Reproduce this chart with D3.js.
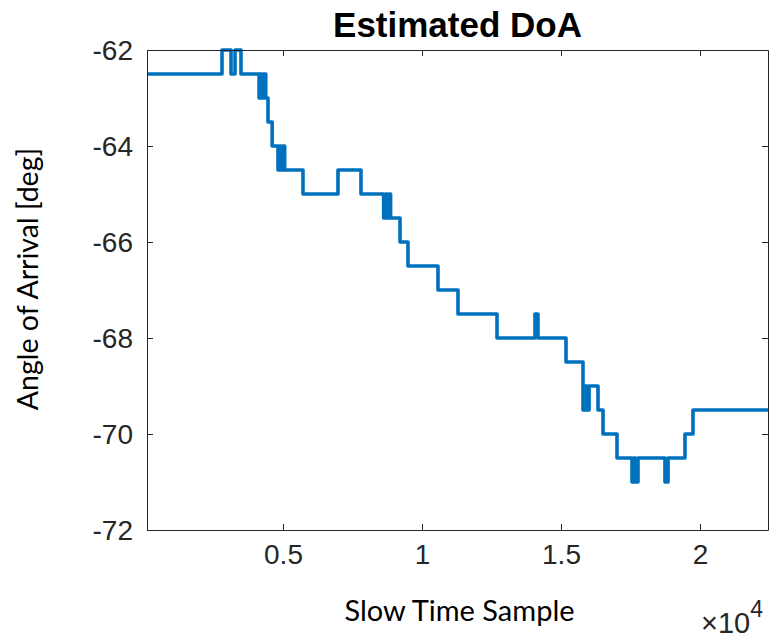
<!DOCTYPE html>
<html>
<head>
<meta charset="utf-8">
<script src="https://cdn.jsdelivr.net/npm/d3@7"></script>
<style>
    html, body { margin: 0; padding: 0; background: #fff; }
    svg { display: block; }
</style>
</head>
<body>
<script>
// Step series: sample index where each level starts, and the angle held from there
const stepSample = [
    108, 2806, 3130, 3274, 3489,
    4140, 4190, 4240, 4300, 4380,
    4460, 4610, 4820, 4880, 4940,
    5000, 5060, 5719, 6978, 7805,
    8620, 8690, 8760, 8830, 8870,
    9209, 9496, 10575, 11295, 12698,
    14065, 14172, 15180, 15791, 15870,
    15940, 16010, 16331, 16511, 17014,
    17554, 17620, 17680, 17770, 18740,
    18850, 19460, 19748, 22446
];
const stepAngle = [
    -62.5, -62, -62.5, -62, -62.5,
    -63, -62.5, -63, -62.5, -63,
    -63.5, -64, -64.5, -64, -64.5,
    -64, -64.5, -65, -64.5, -65,
    -65.5, -65, -65.5, -65, -65.5,
    -66, -66.5, -67, -67.5, -68,
    -67.5, -68, -68.5, -69.5, -69,
    -69.5, -69, -69.5, -70, -70.5,
    -71, -70.5, -71, -70.5, -71,
    -70.5, -70, -69.5, -69.5
];

const xTicks = [5000, 10000, 15000, 20000];
const xTickLabels = ['0.5', '1', '1.5', '2'];
const yTicks = [-72, -70, -68, -66, -64, -62];

const W = 772, H = 638;
const margin = { top: 50, right: 4, bottom: 108, left: 147 };
const innerW = W - margin.left - margin.right;
const innerH = H - margin.top - margin.bottom;

const data = stepSample.map((s, i) => ({ x: s, y: stepAngle[i] }));

const svg = d3.select('body').append('svg')
    .attr('width', W)
    .attr('height', H);

const g = svg.append('g')
    .attr('transform', `translate(${margin.left},${margin.top})`);

// Scales
const xScale = d3.scaleLinear().domain([108, 22446]).range([0, innerW]);
const yScale = d3.scaleLinear().domain([-72, -62]).range([innerH, 0]);

const axisColor = '#262626';
const tickFont = '"Liberation Sans", Arial, sans-serif';

// Line (clipped to axes, like MATLAB)
svg.append('defs').append('clipPath').attr('id', 'plotClip')
    .append('rect').attr('x', 0).attr('y', -2).attr('width', innerW).attr('height', innerH + 4);

g.append('path')
    .datum(data)
    .attr('clip-path', 'url(#plotClip)')
    .attr('fill', 'none')
    .attr('stroke', '#0072BD')
    .attr('stroke-width', 3.6)
    .attr('stroke-linejoin', 'round')
    .attr('d', d3.line()
        .x(d => xScale(d.x))
        .y(d => yScale(d.y))
        .curve(d3.curveStepAfter));

// Axes: bottom/left with labels, top/right mirrored ticks
const xAxis = d3.axisBottom(xScale).tickValues(xTicks)
    .tickFormat((d, i) => xTickLabels[i]).tickSizeInner(-6).tickSizeOuter(0).tickPadding(14);
const yAxis = d3.axisLeft(yScale).tickValues(yTicks)
    .tickFormat(d => String(d)).tickSizeInner(-6).tickSizeOuter(0).tickPadding(14);
const xTop = d3.axisTop(xScale).tickValues(xTicks).tickFormat('').tickSizeInner(-6).tickSizeOuter(0);
const yRight = d3.axisRight(yScale).tickValues(yTicks).tickFormat('').tickSizeInner(-6).tickSizeOuter(0);

const gx = g.append('g').attr('transform', `translate(0,${innerH})`).call(xAxis);
const gy = g.append('g').call(yAxis);
g.append('g').call(xTop);
g.append('g').attr('transform', `translate(${innerW},0)`).call(yRight);

g.selectAll('.domain, .tick line').attr('stroke', axisColor).attr('stroke-width', 1);
g.selectAll('.tick text')
    .attr('fill', axisColor)
    .style('font-family', tickFont)
    .style('font-size', '28px');
gx.selectAll('.tick text').attr('dy', '0.71em');
gy.selectAll('.tick text').attr('dy', '0.35em');

// Title
svg.append('text')
    .attr('x', margin.left + innerW / 2)
    .attr('y', 37)
    .attr('text-anchor', 'middle')
    .style('font-family', tickFont)
    .style('font-weight', 'bold')
    .style('font-size', '35px')
    .attr('fill', '#000')
    .text('Estimated DoA');

// Axis labels
const labelFont = 'Lato, "Open Sans", sans-serif';
svg.append('text')
    .attr('x', margin.left + innerW / 2 + 2)
    .attr('y', 621)
    .attr('text-anchor', 'middle')
    .style('font-family', labelFont)
    .style('font-size', '29px')
    .attr('fill', '#000')
    .text('Slow Time Sample');

svg.append('text')
    .attr('transform', `translate(38,${margin.top + innerH / 2 - 11}) rotate(-90)`)
    .attr('text-anchor', 'middle')
    .style('font-family', labelFont)
    .style('font-size', '28.5px')
    .attr('fill', '#000')
    .text('Angle of Arrival [deg]');

// Exponent label
const expo = svg.append('text')
    .attr('x', 763)
    .attr('y', 633)
    .attr('text-anchor', 'end')
    .style('font-family', tickFont)
    .style('font-size', '29px')
    .attr('fill', axisColor);
expo.append('tspan').text('\u00d710');
expo.append('tspan').attr('dy', -16).style('font-size', '23px').text('4');
</script>
</body>
</html>
